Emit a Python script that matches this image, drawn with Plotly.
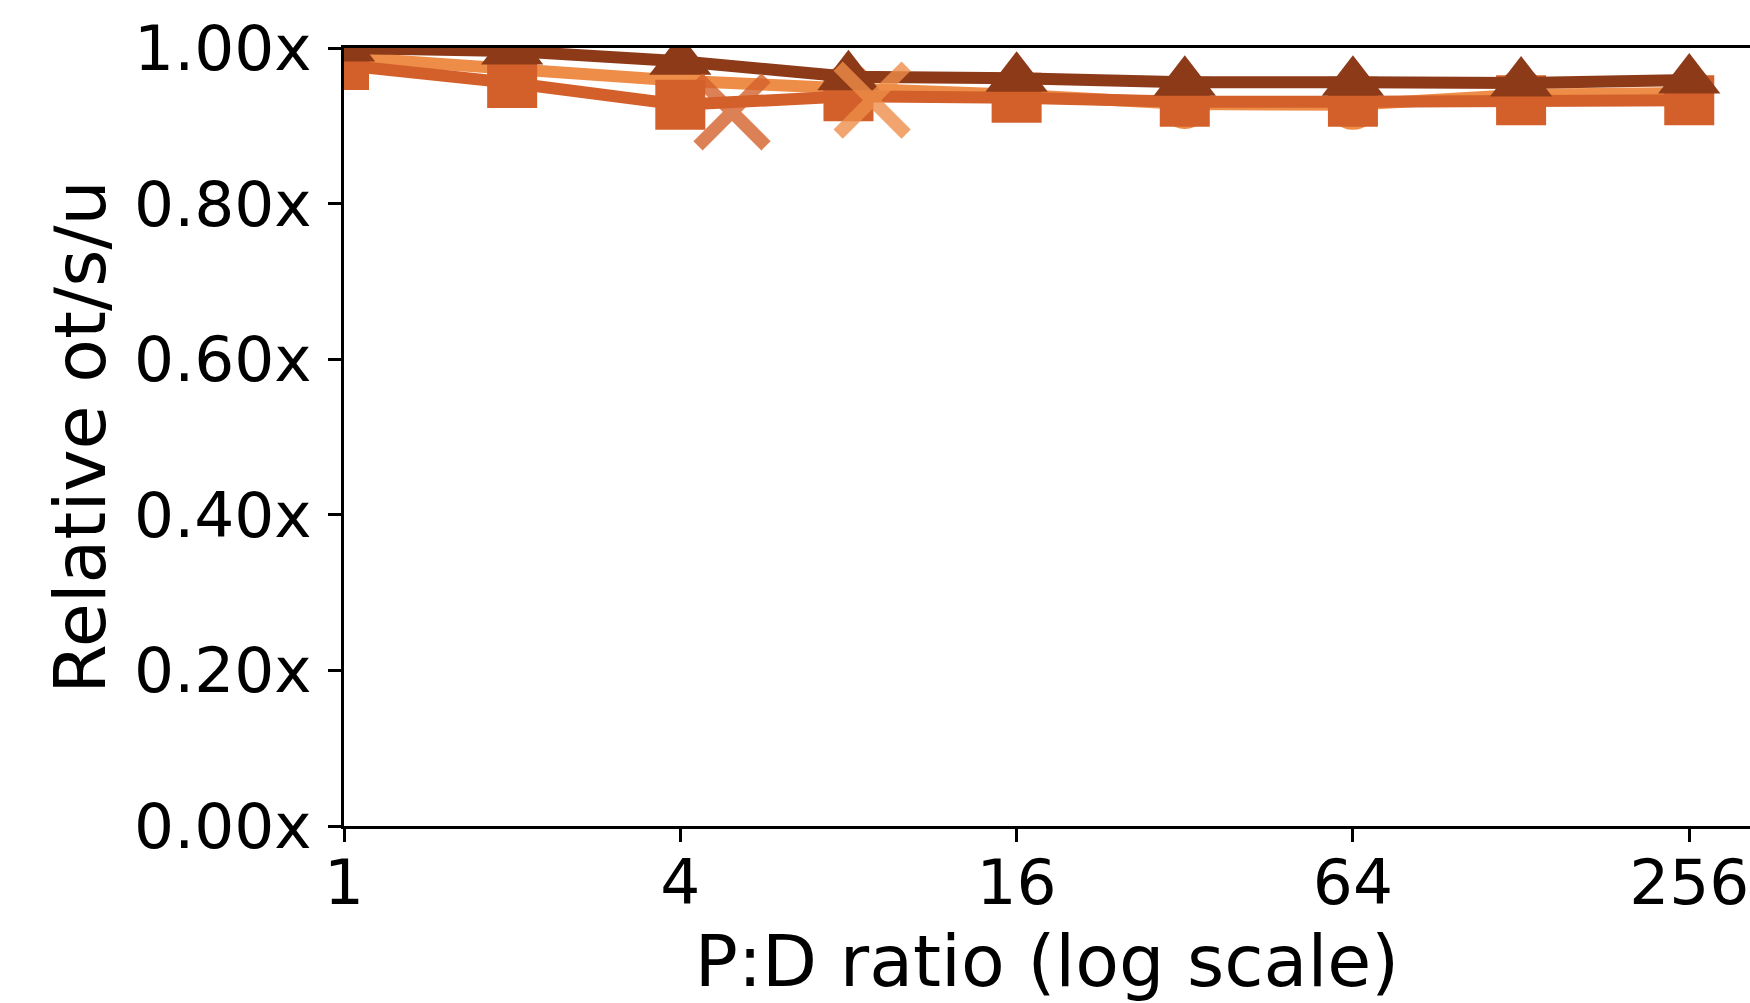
import plotly.graph_objects as go

# P:D ratios on the x axis (log2 steps)
ratios = [1, 2, 4, 8, 16, 32, 64, 128, 256]

# Relative ot/s/u for each configuration
light_vals = [0.988, 0.972, 0.958, 0.948, 0.940, 0.928, 0.927, 0.940, 0.942]
square_vals = [0.978, 0.955, 0.927, 0.938, 0.936, 0.931, 0.931, 0.933, 0.933]
dark_vals = [1.000, 0.996, 0.983, 0.963, 0.961, 0.956, 0.956, 0.955, 0.959]

# Single highlighted operating points
pick_square_x = [4.95]
pick_square_y = [0.918]
pick_light_x = [8.82]
pick_light_y = [0.933]

x_ticks = [1, 4, 16, 64, 256]
x_tick_text = ["1", "4", "16", "64", "256"]
y_ticks = [0.0, 0.2, 0.4, 0.6, 0.8, 1.0]
y_tick_text = ["0.00x", "0.20x", "0.40x", "0.60x", "0.80x", "1.00x"]

DARK = "#8d3a19"
MID = "#d3602a"
LIGHT = "#ee8d48"
FONT = "DejaVu Sans"

fig = go.Figure()

fig.add_trace(go.Scatter(
    x=ratios, y=light_vals, mode="lines+markers",
    line=dict(color=LIGHT, width=12),
    marker=dict(symbol="circle", size=50, color=LIGHT),
    showlegend=False,
))
fig.add_trace(go.Scatter(
    x=ratios, y=square_vals, mode="lines+markers",
    line=dict(color=MID, width=12),
    marker=dict(symbol="square", size=50, color=MID),
    showlegend=False,
))
fig.add_trace(go.Scatter(
    x=ratios, y=dark_vals, mode="lines+markers",
    line=dict(color=DARK, width=12),
    marker=dict(symbol="triangle-up", size=54, color=DARK),
    showlegend=False,
))
fig.add_trace(go.Scatter(
    x=pick_square_x, y=pick_square_y, mode="markers",
    marker=dict(symbol="x-thin", size=68,
                line=dict(color="rgba(211,96,42,0.8)", width=13)),
    showlegend=False,
))
fig.add_trace(go.Scatter(
    x=pick_light_x, y=pick_light_y, mode="markers",
    marker=dict(symbol="x-thin", size=68,
                line=dict(color="rgba(238,141,72,0.8)", width=13)),
    showlegend=False,
))

fig.update_layout(
    width=1750, height=1003,
    margin=dict(l=344, r=0, t=48, b=177, pad=0),
    paper_bgcolor="white", plot_bgcolor="white",
    font=dict(family=FONT, color="black"),
)

fig.update_xaxes(
    type="log",
    range=[0, 2.517],
    tickvals=x_ticks, ticktext=x_tick_text,
    tickfont=dict(size=63, family=FONT, color="black"),
    ticks="outside", ticklen=13, tickwidth=2.5, tickcolor="black",
    ticklabelstandoff=-13,
    showline=True, linecolor="black", linewidth=2.5, mirror=True,
    showgrid=False, zeroline=False,
    title=dict(text="P:D ratio (log scale)",
               font=dict(size=71.5, family=FONT, color="black"),
               standoff=34),
)
fig.update_yaxes(
    range=[0, 1.0],
    tickvals=y_ticks, ticktext=y_tick_text,
    tickfont=dict(size=63, family=FONT, color="black"),
    ticks="outside", ticklen=13, tickwidth=2.5, tickcolor="black",
    showline=True, linecolor="black", linewidth=2.5, mirror=False,
    showgrid=False, zeroline=False,
    ticklabelstandoff=4,
    title=dict(text="Relative ot/s/u",
               font=dict(size=71.5, family=FONT, color="black"),
               standoff=6),
)

fig.write_html("out.html")
